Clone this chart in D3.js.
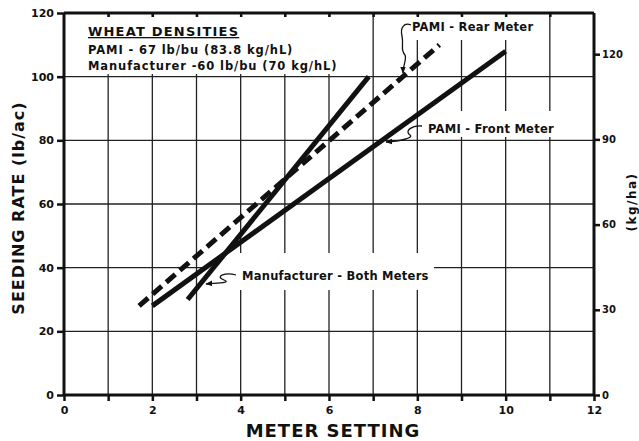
<!DOCTYPE html>
<meta charset="utf-8">
<script src="https://d3js.org/d3.v7.min.js"></script>
<style>
  body { margin: 0; background: #fff; }
  text { font-family: "DejaVu Sans", sans-serif; fill: #111; }
</style>
<div id="vis"></div>
<script>

// chart data
var xTicks = [0, 2, 4, 6, 8, 10, 12]
var yTicks = [0, 20, 40, 60, 80, 100, 120]
var kgTicks = [0, 30, 60, 90, 120]
var seriesNames = ["Manufacturer - Both Meters", "PAMI - Front Meter", "PAMI - Rear Meter"]
var manufacturer = [[2.8, 30], [6.9, 100]]
var pamiFront = [[2.0, 28], [10.0, 108]]
var pamiRear = [[1.7, 28], [8.5, 110]]
var densityTitle = "WHEAT DENSITIES"
var densityLines = ["PAMI - 67 lb/bu (83.8 kg/hL)", "Manufacturer -60 lb/bu (70 kg/hL)"]

var width = 639,
    height = 441,
    margin = {top: 13, right: 45, bottom: 46, left: 64}

var svg = d3.select("#vis")
  .append("svg")
    .attr("width", width)
    .attr("height", height)

var x = d3.scaleLinear().domain([0, 12]).range([margin.left, width - margin.right])
var y = d3.scaleLinear().domain([0, 120]).range([height - margin.bottom, margin.top])
// 1 lb/ac = 1.12085 kg/ha
var yKg = d3.scaleLinear().domain([0, 120 * 1.12085]).range(y.range())

// grid
svg.append("g")
  .selectAll("line")
  .data(d3.range(1, 12))
  .enter().append("line")
    .attr("x1", d => x(d)).attr("x2", d => x(d))
    .attr("y1", y(120)).attr("y2", y(0))
    .attr("stroke", "#222").attr("stroke-width", 1.3)

svg.append("g")
  .selectAll("line")
  .data(yTicks.slice(1, -1))
  .enter().append("line")
    .attr("x1", x(0)).attr("x2", x(12))
    .attr("y1", d => y(d)).attr("y2", d => y(d))
    .attr("stroke", "#222").attr("stroke-width", 1.3)

// white patches behind labels (they break the grid)
var patches = [[66, 17, 274, 57], [398, 16, 138, 24], [424, 111, 132, 26], [208, 253, 226, 37]]
svg.append("g")
  .selectAll("rect")
  .data(patches)
  .enter().append("rect")
    .attr("x", d => d[0]).attr("y", d => d[1])
    .attr("width", d => d[2]).attr("height", d => d[3])
    .attr("fill", "#fff")

// axes
var bottomAxis = d3.axisBottom(x).tickValues(d3.range(0, 13)).tickSize(6)
  .tickFormat(d => xTicks.indexOf(d) >= 0 ? d : "")
var gx = svg.append("g").attr("transform", "translate(0," + y(0) + ")").call(bottomAxis)

var leftAxis = d3.axisLeft(y).tickValues(yTicks).tickSize(7)
var gy = svg.append("g").attr("transform", "translate(" + x(0) + ",0)").call(leftAxis)

var rightAxis = d3.axisRight(yKg).tickValues(kgTicks).tickSize(6)
var gr = svg.append("g").attr("transform", "translate(" + x(12) + ",0)").call(rightAxis)

var topAxis = d3.axisTop(x).tickValues(d3.range(1, 12)).tickSize(-4).tickFormat("")
var gt = svg.append("g").attr("transform", "translate(0," + y(120) + ")").call(topAxis)

;[gx, gy, gr, gt].forEach(function(g) {
  g.select(".domain").attr("stroke", "#111").attr("stroke-width", 3)
  g.selectAll(".tick line").attr("stroke", "#111").attr("stroke-width", 2.5)
  g.selectAll(".tick text")
    .style("font-family", "DejaVu Sans").style("font-weight", "bold")
    .style("font-size", "11px").attr("fill", "#111")
})
gx.select(".domain").attr("d", "M" + x(0) + ",0H" + x(12))
gy.select(".domain").attr("d", "M0," + y(0) + "V" + y(120))
gr.select(".domain").attr("d", "M0," + y(0) + "V" + y(120))
gt.select(".domain").attr("d", "M" + x(0) + ",0H" + x(12))
gx.selectAll(".tick text").attr("dy", "0.9em")
gr.selectAll(".tick text").attr("x", 8).style("font-size", "10px")

// series
var line = d3.line().x(d => x(d[0])).y(d => y(d[1]))
var series = [
  {name: seriesNames[0], values: manufacturer, dash: null},
  {name: seriesNames[1], values: pamiFront, dash: null},
  {name: seriesNames[2], values: pamiRear, dash: "12,6"}
]
svg.append("g")
  .selectAll("path")
  .data(series)
  .enter().append("path")
    .attr("d", d => line(d.values))
    .attr("fill", "none")
    .attr("stroke", "#111")
    .attr("stroke-width", 5)
    .attr("stroke-dasharray", d => d.dash)

// annotations with leaders
svg.append("defs").append("marker")
    .attr("id", "arr").attr("viewBox", "0 0 10 10")
    .attr("refX", 9).attr("refY", 5)
    .attr("markerWidth", 7).attr("markerHeight", 7)
    .attr("markerUnits", "userSpaceOnUse")
    .attr("orient", "auto")
  .append("path").attr("d", "M0,1L10,5L0,9z").attr("fill", "#111")

var notes = [
  {text: seriesNames[2], tx: 412, ty: 31,
   lead: "M411,25 C404,22 400,28 402,36 C404,46 400,50 405,55 C407,60 403,64 403,73"},
  {text: seriesNames[1], tx: 428, ty: 133,
   lead: "M422,126 C412,125 404,131 410,135 C414,138 400,141 386,142"},
  {text: seriesNames[0], tx: 242, ty: 280,
   lead: "M236,275 C226,272 214,276 224,280 C232,283 216,283 206,284"}
]
notes.forEach(function(n) {
  svg.append("text").attr("x", n.tx).attr("y", n.ty)
    .style("font-size", "11.5px").style("font-weight", "bold")
    .style("letter-spacing", "0.25px").text(n.text)
  svg.append("path").attr("d", n.lead).attr("fill", "none")
    .attr("stroke", "#111").attr("stroke-width", 1.3).attr("marker-end", "url(#arr)")
})

// wheat density box
svg.append("text").attr("x", 88).attr("y", 36)
  .style("font-size", "13px").style("font-weight", "bold")
  .style("letter-spacing", "1.2px")
  .style("text-decoration", "underline").text(densityTitle)
densityLines.forEach(function(t, i) {
  svg.append("text").attr("x", 88).attr("y", 54 + i * 16)
    .style("font-size", "11.5px").style("font-weight", "bold")
    .style("letter-spacing", "0.9px").text(t)
})

// axis titles
svg.append("text")
  .attr("transform", "translate(24,208) rotate(-90)")
  .attr("text-anchor", "middle")
  .style("font-size", "16px").style("font-weight", "bold")
  .style("letter-spacing", "1px")
  .text("SEEDING RATE (lb/ac)")

svg.append("text")
  .attr("x", 333).attr("y", 437)
  .attr("text-anchor", "middle")
  .style("font-size", "18px").style("font-weight", "bold")
  .style("letter-spacing", "1px")
  .text("METER SETTING")

svg.append("text")
  .attr("transform", "translate(636,202) rotate(-90)")
  .attr("text-anchor", "middle")
  .style("font-size", "12px").style("font-weight", "bold")
  .style("letter-spacing", "1.5px")
  .text("(kg/ha)")

</script>
